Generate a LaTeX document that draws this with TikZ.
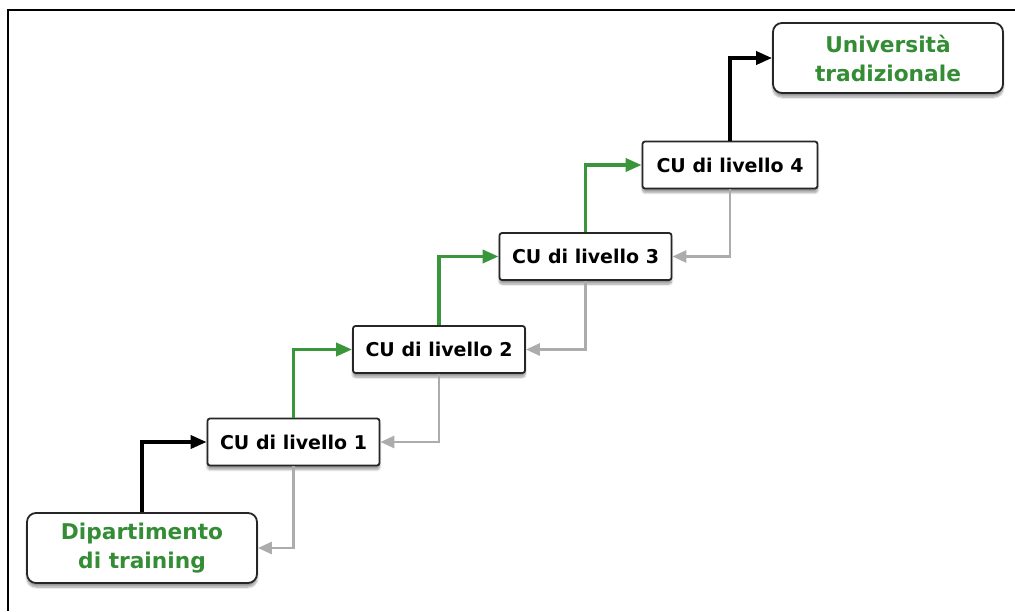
\documentclass[tikz,border=0pt]{standalone}
\usepackage{fontspec}
\setmainfont{DejaVu Sans}
\usetikzlibrary{arrows.meta,shadows.blur}
\definecolor{lvgreen}{RGB}{52,140,52}
\definecolor{arrowgreen}{RGB}{58,150,58}
\definecolor{backgray}{RGB}{172,172,172}
\begin{document}
\begin{tikzpicture}[x=1pt,y=-1pt,
  cubox/.style={draw=black!85, line width=1.8pt, fill=white, rounded corners=2.5pt,
    minimum width=172pt, minimum height=47pt, inner sep=0pt,
    font=\fontsize{19}{23}\selectfont\bfseries,
    blur shadow={shadow xshift=0pt, shadow yshift=-4pt, shadow blur steps=8, shadow opacity=40}},
  endbox/.style={draw=black!85, line width=1.8pt, fill=white, rounded corners=9pt,
    minimum width=230pt, minimum height=70pt, inner sep=0pt, align=center,
    text=lvgreen, font=\fontsize{21.7}{29}\selectfont\bfseries,
    blur shadow={shadow xshift=0pt, shadow yshift=-4pt, shadow blur steps=8, shadow opacity=40}},
  uparrow/.style={line width=3.6pt, -{Triangle[length=16pt,width=13pt]}},
  backarrow/.style={line width=2.8pt, draw=backgray, -{Triangle[length=14pt,width=12pt]}},
]
\useasboundingbox (0,0) rectangle (1015,611);
% partial frame: top and left edges
\draw[line width=2pt] (8,611) -- (8,10) -- (1015,10);

% boxes
\node[endbox] (dep) at (142,548) {Dipartimento\\di training};
\node[cubox] (cu1) at (293.5,442) {CU di livello 1};
\node[cubox] (cu2) at (439,349.5) {CU di livello 2};
\node[cubox] (cu3) at (585.5,256.5) {CU di livello 3};
\node[cubox, minimum width=175pt] (cu4) at (730,165) {CU di livello 4};
\node[endbox] (uni) at (888,58) {Università\\tradizionale};

% upward path
\draw[uparrow, draw=black] (dep.north) |- (cu1.west);
\draw[uparrow, draw=arrowgreen] (cu1.north) |- (cu2.west);
\draw[uparrow, draw=arrowgreen] (cu2.north) |- (cu3.west);
\draw[uparrow, draw=arrowgreen] (cu3.north) |- (cu4.west);
\draw[uparrow, draw=black] (cu4.north) |- (uni.west);

% downward path
\draw[backarrow] (cu1.south) |- (dep.east);
\draw[backarrow] (cu2.south) |- (cu1.east);
\draw[backarrow] (cu3.south) |- (cu2.east);
\draw[backarrow] (cu4.south) |- (cu3.east);
\end{tikzpicture}
\end{document}
